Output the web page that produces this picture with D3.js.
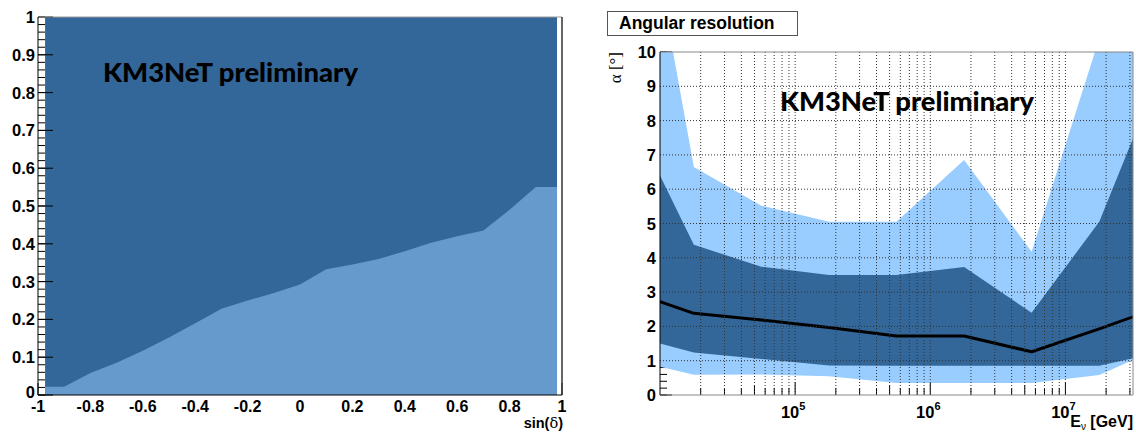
<!DOCTYPE html>
<html>
<head>
<meta charset="utf-8">
<script src="https://cdn.jsdelivr.net/npm/d3@7/dist/d3.min.js"></script>
<style>
  html, body { margin: 0; padding: 0; background: #fff; }
  svg { display: block; }
  .lbl { font-family: "Liberation Sans", Arial, sans-serif; font-weight: bold; fill: #000; }
</style>
</head>
<body>
<svg id="chart" width="1136" height="432"></svg>
<script>
// ---------- Left panel data ----------
const sinDelta = [-1, -0.9, -0.8, -0.7, -0.6, -0.5, -0.4, -0.3, -0.2, -0.1, 0, 0.1, 0.2, 0.3, 0.4, 0.5, 0.6, 0.7, 0.8, 0.9, 1.0];
const fraction = [0.022, 0.022, 0.058, 0.085, 0.117, 0.152, 0.19, 0.228, 0.25, 0.27, 0.292, 0.333, 0.345, 0.36, 0.38, 0.403, 0.42, 0.435, 0.49, 0.55, 0.55];
const fillExtent = [-0.973, 0.981];
const leftXTicks = [-1, -0.8, -0.6, -0.4, -0.2, 0, 0.2, 0.4, 0.6, 0.8, 1];
const leftYTicks = [0, 0.1, 0.2, 0.3, 0.4, 0.5, 0.6, 0.7, 0.8, 0.9, 1];

// ---------- Right panel data ----------
const energy    = [1.0e4, 1.78e4, 5.62e4, 1.78e5, 5.62e5, 1.78e6, 5.62e6, 1.78e7, 3.16e7];
const median    = [2.72, 2.38, 2.19, 1.97, 1.72, 1.72, 1.26, 1.93, 2.28];
const darkLow   = [1.50, 1.24, 1.05, 0.86, 0.85, 0.85, 0.85, 0.85, 1.07];
const darkHigh  = [6.40, 4.38, 3.74, 3.50, 3.50, 3.73, 2.40, 5.05, 7.48];
const lightLow  = [0.82, 0.59, 0.60, 0.55, 0.35, 0.35, 0.35, 0.58, 1.02];
const lightHigh = [12.1, 6.65, 5.52, 5.05, 5.05, 6.85, 4.18, 10.4, 13.0];
const rightYTicks = [0, 1, 2, 3, 4, 5, 6, 7, 8, 9, 10];
const decadeLabels = [{base: "10", exp: "5", v: 1e5}, {base: "10", exp: "6", v: 1e6}, {base: "10", exp: "7", v: 1e7}];

const svg = d3.select("#chart");
const FS = 16.5;

// ======================= LEFT PANEL =======================
const xL = d3.scaleLinear().domain([-1, 1]).range([38, 562]);
const yL = d3.scaleLinear().domain([0, 1]).range([395, 17]);
const left = svg.append("g");

left.selectAll(".bt").data(d3.range(-1, 1.0001, 0.05)).join("line")
  .attr("x1", d => xL(d)).attr("x2", d => xL(d))
  .attr("y1", yL(0)).attr("y2", (d, i) => yL(0) - (i % 4 === 0 ? 12 : 6))
  .attr("stroke", "#000");

left.append("rect")
  .attr("x", xL(fillExtent[0])).attr("y", yL(1))
  .attr("width", xL(fillExtent[1]) - xL(fillExtent[0]))
  .attr("height", yL(0) - yL(1))
  .attr("fill", "#336699");

const leftPts = sinDelta.map((s, i) => ({x: Math.max(fillExtent[0], Math.min(fillExtent[1], s)), y: fraction[i]}));
left.append("path")
  .datum(leftPts)
  .attr("fill", "#6699cc")
  .attr("d", d3.area().x(d => xL(d.x)).y0(yL(0)).y1(d => yL(d.y)));

left.selectAll(".ymin").data(d3.range(0, 1.0001, 0.02)).join("line")
  .attr("x1", xL(-1)).attr("x2", xL(-1) + 7)
  .attr("y1", d => yL(d)).attr("y2", d => yL(d))
  .attr("stroke", "#000").attr("stroke-width", 1);
left.selectAll(".ymaj").data(leftYTicks).join("line")
  .attr("x1", xL(-1)).attr("x2", xL(-1) + 15)
  .attr("y1", d => yL(d)).attr("y2", d => yL(d))
  .attr("stroke", "#000").attr("stroke-width", 1);

left.append("line").attr("x1", xL(-1)).attr("x2", xL(1)).attr("y1", yL(1)).attr("y2", yL(1)).attr("stroke", "#999");
left.append("line").attr("x1", xL(1)).attr("x2", xL(1)).attr("y1", yL(1)).attr("y2", yL(0)).attr("stroke", "#333").attr("stroke-width", 1.5);
left.append("line").attr("x1", xL(-1)).attr("x2", xL(-1)).attr("y1", yL(1)).attr("y2", yL(0)).attr("stroke", "#000");
left.append("line").attr("x1", xL(-1)).attr("x2", xL(1)).attr("y1", yL(0)).attr("y2", yL(0)).attr("stroke", "#000");

left.selectAll(".yl").data(leftYTicks).join("text").attr("class", "lbl").attr("font-size", FS)
  .attr("x", 35).attr("y", d => d === 0 ? yL(d) + 3 : yL(d) + 6).attr("text-anchor", "end")
  .text(d => d === 0 ? "0" : d === 1 ? "1" : d3.format(".1f")(d));
left.selectAll(".xl").data(leftXTicks).join("text").attr("class", "lbl").attr("font-size", 16)
  .attr("x", d => xL(d)).attr("y", 412).attr("text-anchor", "middle")
  .text(d => d === 0 ? "0" : (Math.abs(d) === 1 ? (d < 0 ? "-1" : "1") : (d < 0 ? "-" : "") + d3.format(".1f")(Math.abs(d))));
const sinLbl = left.append("text").attr("class", "lbl").attr("font-size", 14.5).attr("x", 563).attr("y", 428).attr("text-anchor", "end");
sinLbl.append("tspan").text("sin(");
sinLbl.append("tspan").attr("font-family", "DejaVu Serif, serif").attr("font-weight", "normal").text("δ");
sinLbl.append("tspan").text(")");

left.append("text").attr("x", 103).attr("y", 82)
  .attr("font-family", "Lato, sans-serif").attr("font-weight", 900).attr("font-size", 27)
  .attr("textLength", 255).attr("lengthAdjust", "spacingAndGlyphs")
  .attr("fill", "#000").text("KM3NeT preliminary");

// ======================= RIGHT PANEL =======================
const xR = d3.scaleLog().domain([1e4, Math.pow(10, 7.5)]).range([660, 1133]);
const yR = d3.scaleLinear().domain([0, 10]).range([395, 52]);
const right = svg.append("g");

svg.append("clipPath").attr("id", "clipR").append("rect")
  .attr("x", 660).attr("y", 52).attr("width", 1133 - 660).attr("height", 395 - 52);

const logTicks = [];
for (let e = 4; e <= 7; e++) for (let m = 1; m <= 9; m++) {
  const v = m * Math.pow(10, e);
  if (v > 1e4 && v < Math.pow(10, 7.5)) logTicks.push({v, m});
}

right.selectAll(".ymin").data(d3.range(0, 10.0001, 0.2)).join("line")
  .attr("x1", 660).attr("x2", 667)
  .attr("y1", d => yR(d)).attr("y2", d => yR(d)).attr("stroke", "#000");
right.selectAll(".ymaj").data(rightYTicks).join("line")
  .attr("x1", 660).attr("x2", 672)
  .attr("y1", d => yR(d)).attr("y2", d => yR(d)).attr("stroke", "#000");
right.selectAll(".xt").data(logTicks).join("line")
  .attr("x1", d => xR(d.v)).attr("x2", d => xR(d.v))
  .attr("y1", 395).attr("y2", d => 395 - (d.m === 1 ? 13 : (d.m === 5 ? 10 : 7)))
  .attr("stroke", "#000");

const pts = energy.map((e, i) => ({e, med: median[i], dl: darkLow[i], dh: darkHigh[i], ll: lightLow[i], lh: lightHigh[i]}));
const plot = right.append("g").attr("clip-path", "url(#clipR)");
plot.append("path").datum(pts).attr("fill", "#99ccff")
  .attr("d", d3.area().x(d => xR(d.e)).y0(d => yR(d.ll)).y1(d => yR(d.lh)));
plot.append("path").datum(pts).attr("fill", "#336699")
  .attr("d", d3.area().x(d => xR(d.e)).y0(d => yR(d.dl)).y1(d => yR(d.dh)));

right.selectAll(".gx").data(logTicks).join("line")
  .attr("x1", d => xR(d.v)).attr("x2", d => xR(d.v)).attr("y1", 52).attr("y2", 395)
  .attr("stroke", "#333").attr("stroke-width", 1).attr("stroke-dasharray", "1,2");
right.selectAll(".gy").data(rightYTicks.filter(v => v > 0 && v < 10)).join("line")
  .attr("x1", 660).attr("x2", 1133).attr("y1", d => yR(d)).attr("y2", d => yR(d))
  .attr("stroke", "#333").attr("stroke-width", 1).attr("stroke-dasharray", "1,2");

plot.append("path").datum(pts).attr("fill", "none").attr("stroke", "#000").attr("stroke-width", 3)
  .attr("stroke-linejoin", "round")
  .attr("d", d3.line().x(d => xR(d.e)).y(d => yR(d.med)));

right.append("line").attr("x1", 660).attr("x2", 1133).attr("y1", 52).attr("y2", 52).attr("stroke", "#888");
right.append("line").attr("x1", 1133).attr("x2", 1133).attr("y1", 52).attr("y2", 395).attr("stroke", "#888");
right.append("line").attr("x1", 660).attr("x2", 660).attr("y1", 52).attr("y2", 395).attr("stroke", "#000");
right.append("line").attr("x1", 660).attr("x2", 1133).attr("y1", 395).attr("y2", 395).attr("stroke", "#888");

right.selectAll(".yl").data(rightYTicks).join("text").attr("class", "lbl").attr("font-size", FS)
  .attr("x", 656).attr("y", d => yR(d) + 6).attr("text-anchor", "end").text(d => d);
const xlab = right.selectAll(".xl").data(decadeLabels).join("text").attr("class", "lbl").attr("font-size", FS)
  .attr("x", d => xR(d.v) - 2).attr("y", 418).attr("text-anchor", "middle");
xlab.append("tspan").text(d => d.base);
xlab.append("tspan").attr("font-size", 11).attr("dy", -8).text(d => d.exp);

const eLbl = right.append("text").attr("class", "lbl").attr("font-size", 16).attr("x", 1133).attr("y", 427).attr("text-anchor", "end");
eLbl.append("tspan").text("E");
eLbl.append("tspan").attr("font-size", 10).attr("font-weight", "normal").attr("dy", 3).text("ν");
eLbl.append("tspan").attr("dy", -3).text(" [GeV]");

right.append("text").attr("transform", "translate(621,52) rotate(-90)")
  .attr("text-anchor", "end").attr("font-family", "Liberation Serif, serif").attr("font-size", 17)
  .attr("fill", "#000").text("α [°]");

right.append("rect").attr("x", 607.5).attr("y", 11.5).attr("width", 190).attr("height", 24)
  .attr("fill", "#fff").attr("stroke", "#555");
right.append("text").attr("class", "lbl").attr("x", 619).attr("y", 29).attr("font-size", 17.5)
  .text("Angular resolution");

right.append("text").attr("x", 780).attr("y", 111)
  .attr("font-family", "Lato, sans-serif").attr("font-weight", 900).attr("font-size", 27)
  .attr("textLength", 254).attr("lengthAdjust", "spacingAndGlyphs")
  .attr("fill", "#000").text("KM3NeT preliminary");
</script>
</body>
</html>
